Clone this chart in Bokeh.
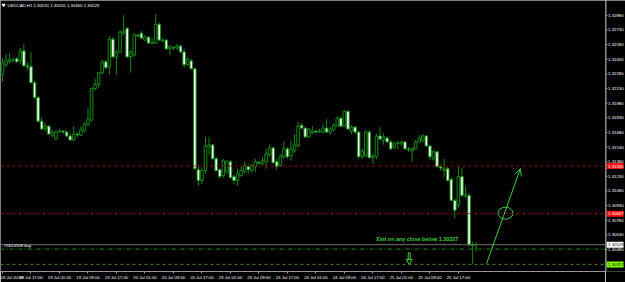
from bokeh.plotting import figure
from bokeh.layouts import row
from bokeh.models import (FixedTicker, Range1d, Label, Span, Arrow, OpenHead,
                          ColumnDataSource)
from bokeh.core.properties import value
from bokeh.embed import file_html
from bokeh.resources import INLINE

# ---------------- data (USDCAD H1) ----------------
opens = [1.32272, 1.32373, 1.32403, 1.32418, 1.32434, 1.32413, 1.32515, 1.32363, 1.32353, 1.32190,
         1.32038, 1.31795, 1.31714, 1.31744, 1.31653, 1.31612, 1.31688, 1.31693, 1.31683, 1.31643,
         1.31602, 1.31663, 1.31653, 1.31693, 1.31764, 1.31805, 1.32130, 1.32170, 1.32292, 1.32403,
         1.32353, 1.32636, 1.32454, 1.32505, 1.32697, 1.32748, 1.32454, 1.32474, 1.32677, 1.32697,
         1.32626, 1.32657, 1.32591, 1.32596, 1.32789, 1.32616, 1.32626, 1.32535, 1.32545, 1.32545,
         1.32566, 1.32505, 1.32373, 1.32413, 1.32332, 1.31298, 1.31187, 1.31288, 1.31531, 1.31552,
         1.31410, 1.31298, 1.31237, 1.31278, 1.31379, 1.31227, 1.31187, 1.31237, 1.31278, 1.31329,
         1.31288, 1.31329, 1.31374, 1.31359, 1.31379, 1.31450, 1.31521, 1.31379, 1.31339, 1.31430,
         1.31511, 1.31440, 1.31491, 1.31541, 1.31754, 1.31724, 1.31633, 1.31673, 1.31693, 1.31683,
         1.31683, 1.31724, 1.31683, 1.31704, 1.31744, 1.31825, 1.31744, 1.31896, 1.31693, 1.31734,
         1.31683, 1.31430, 1.31440, 1.31683, 1.31420, 1.31430, 1.31643, 1.31602, 1.31622, 1.31582,
         1.31531, 1.31567, 1.31562, 1.31582, 1.31511, 1.31491, 1.31511, 1.31582, 1.31592, 1.31643,
         1.31541, 1.31410, 1.31481, 1.31329, 1.31288, 1.31308, 1.31197, 1.30983, 1.30933, 1.31227,
         1.31029, 1.31034, 1.30517, 1.30531]
highs = [1.32444, 1.32484, 1.32495, 1.32444, 1.32454, 1.32545, 1.32586, 1.32393, 1.32505, 1.32211,
         1.32059, 1.31836, 1.31775, 1.31754, 1.31704, 1.31704, 1.31714, 1.31704, 1.31704, 1.31673,
         1.31744, 1.31683, 1.31744, 1.31785, 1.31927, 1.32140, 1.32231, 1.32302, 1.32424, 1.32424,
         1.32667, 1.32657, 1.32525, 1.32728, 1.32880, 1.32758, 1.32525, 1.32697, 1.32687, 1.32718,
         1.32677, 1.32667, 1.32647, 1.32890, 1.32809, 1.32647, 1.32636, 1.32576, 1.32566, 1.32586,
         1.32576, 1.32535, 1.32454, 1.32434, 1.32343, 1.31339, 1.31308, 1.31633, 1.31633, 1.31562,
         1.31430, 1.31308, 1.31410, 1.31399, 1.31399, 1.31247, 1.31308, 1.31329, 1.31379, 1.31359,
         1.31359, 1.31410, 1.31389, 1.31430, 1.31511, 1.31552, 1.31531, 1.31410, 1.31461, 1.31592,
         1.31531, 1.31592, 1.31663, 1.31785, 1.31775, 1.31734, 1.31724, 1.31744, 1.31704, 1.31714,
         1.31764, 1.31815, 1.31734, 1.31775, 1.31846, 1.31846, 1.31907, 1.31907, 1.31754, 1.31744,
         1.31693, 1.31511, 1.31704, 1.31704, 1.31461, 1.31663, 1.31734, 1.31673, 1.31643, 1.31602,
         1.31582, 1.31592, 1.31592, 1.31592, 1.31531, 1.31531, 1.31602, 1.31653, 1.31663, 1.31653,
         1.31552, 1.31501, 1.31491, 1.31349, 1.31410, 1.31329, 1.31217, 1.31004, 1.31329, 1.31308,
         1.31126, 1.31055, 1.30558, 1.30555]
lows = [1.32200, 1.32343, 1.32393, 1.32403, 1.32393, 1.32383, 1.32353, 1.32322, 1.32180, 1.32018,
        1.31775, 1.31704, 1.31693, 1.31653, 1.31633, 1.31602, 1.31673, 1.31663, 1.31633, 1.31592,
        1.31592, 1.31633, 1.31643, 1.31683, 1.31744, 1.31795, 1.32109, 1.32140, 1.32272, 1.32332,
        1.32272, 1.32444, 1.32272, 1.32495, 1.32677, 1.32444, 1.32292, 1.32454, 1.32657, 1.32636,
        1.32616, 1.32586, 1.32586, 1.32586, 1.32616, 1.32606, 1.32525, 1.32474, 1.32525, 1.32525,
        1.32495, 1.32343, 1.32363, 1.32322, 1.31298, 1.31136, 1.31146, 1.31257, 1.31450, 1.31399,
        1.31278, 1.31207, 1.31217, 1.31257, 1.31207, 1.31146, 1.31136, 1.31227, 1.31257, 1.31257,
        1.31268, 1.31278, 1.31349, 1.31339, 1.31308, 1.31430, 1.31359, 1.31298, 1.31329, 1.31410,
        1.31410, 1.31389, 1.31471, 1.31531, 1.31714, 1.31622, 1.31622, 1.31663, 1.31673, 1.31673,
        1.31673, 1.31673, 1.31653, 1.31693, 1.31734, 1.31734, 1.31734, 1.31704, 1.31663, 1.31663,
        1.31410, 1.31410, 1.31430, 1.31410, 1.31359, 1.31410, 1.31592, 1.31552, 1.31572, 1.31501,
        1.31511, 1.31511, 1.31541, 1.31501, 1.31481, 1.31379, 1.31501, 1.31572, 1.31582, 1.31531,
        1.31399, 1.31389, 1.31319, 1.31288, 1.31227, 1.31176, 1.30974, 1.30801, 1.30903, 1.31013,
        1.31004, 1.30507, 1.30327, 1.30460]
closes = [1.32393, 1.32413, 1.32424, 1.32424, 1.32403, 1.32515, 1.32363, 1.32353, 1.32190, 1.32038,
          1.31795, 1.31714, 1.31744, 1.31663, 1.31683, 1.31683, 1.31693, 1.31683, 1.31643, 1.31602,
          1.31663, 1.31653, 1.31704, 1.31764, 1.31815, 1.32130, 1.32170, 1.32292, 1.32403, 1.32343,
          1.32636, 1.32454, 1.32505, 1.32708, 1.32718, 1.32454, 1.32505, 1.32677, 1.32667, 1.32647,
          1.32657, 1.32596, 1.32601, 1.32789, 1.32626, 1.32626, 1.32535, 1.32556, 1.32550, 1.32566,
          1.32505, 1.32373, 1.32424, 1.32332, 1.31308, 1.31187, 1.31288, 1.31541, 1.31552, 1.31410,
          1.31288, 1.31227, 1.31389, 1.31379, 1.31217, 1.31187, 1.31257, 1.31288, 1.31339, 1.31298,
          1.31339, 1.31379, 1.31364, 1.31389, 1.31461, 1.31521, 1.31369, 1.31329, 1.31430, 1.31511,
          1.31430, 1.31511, 1.31552, 1.31744, 1.31724, 1.31633, 1.31714, 1.31693, 1.31683, 1.31693,
          1.31724, 1.31683, 1.31714, 1.31754, 1.31825, 1.31744, 1.31896, 1.31714, 1.31734, 1.31683,
          1.31430, 1.31491, 1.31683, 1.31420, 1.31440, 1.31643, 1.31612, 1.31633, 1.31582, 1.31511,
          1.31562, 1.31572, 1.31582, 1.31511, 1.31501, 1.31511, 1.31582, 1.31622, 1.31643, 1.31541,
          1.31430, 1.31481, 1.31329, 1.31314, 1.31308, 1.31187, 1.30983, 1.30882, 1.31227, 1.31034,
          1.31039, 1.30528, 1.30528, 1.30529]

time_label_bars = [0, 8, 16, 24, 32, 40, 48, 56, 64, 72, 80, 88, 96, 104, 112, 120, 128]
time_labels = ["18 Jul 2018", "18 Jul 17:00", "19 Jul 01:00", "19 Jul 09:00", "19 Jul 17:00",
               "20 Jul 01:00", "20 Jul 09:00", "20 Jul 17:00", "23 Jul 01:00", "23 Jul 09:00",
               "23 Jul 17:00", "24 Jul 01:00", "24 Jul 09:00", "24 Jul 17:00", "25 Jul 01:00",
               "25 Jul 09:00", "25 Jul 17:00"]
price_ticks = [1.32880, 1.32730, 1.32580, 1.32430, 1.32280, 1.32130, 1.31980, 1.31830, 1.31680,
               1.31530, 1.31380, 1.31230, 1.31080, 1.30930, 1.30780, 1.30630, 1.30480]

symbol_title = "USDCAD,H1  1.30531 1.30555 1.30460 1.30529"
tp_level_1 = 1.31335
tp_level_2 = 1.30847
exit_level = 1.30327
bid_level = 1.30529
order_level = 1.30484
order_text = "#5614508 buy"
note_text = "Exit on any close below 1.30327"

box_levels = [tp_level_1, tp_level_2, bid_level, exit_level]
box_fills = ["#ff1010", "#ff1010", "white", "#80ff00"]
box_text_colors = ["white", "white", "black", "black"]

# annotation anchors (bar index, price)
note_pos = (105.0, 1.30588)
down_arrow_pos = (114.2, 1.30360)
circle_pos = (141.2, 1.30852)
arrow_start = (135.9, 1.30335)
arrow_end = (145.4, 1.31308)

# ---------------- styles ----------------
GREEN = "#158a15"
NOTE_GREEN = "#3ccf3c"
AXIS_GRAY = "#9a9a9a"
FONT = "Liberation Sans"
FS = "4.3px"

n = len(opens)
idx = list(range(n))
bull = [c >= o for o, c in zip(opens, closes)]
src = ColumnDataSource(dict(
    x=idx, o=opens, h=highs, l=lows, c=closes,
    top=[max(o, c) for o, c in zip(opens, closes)],
    bottom=[min(o, c) for o, c in zip(opens, closes)],
    fill=["black" if b else "white" for b in bull],
))

yr = Range1d(1.30254, 1.33032)

# ---------- main chart ----------
p = figure(width=605, height=282, output_backend="svg", toolbar_location=None,
           x_range=Range1d(-0.56, 169.3), y_range=yr, y_axis_location=None,
           min_border_left=0, min_border_right=0, min_border_top=0, min_border_bottom=8,
           background_fill_color="black", border_fill_color="black")
p.grid.visible = False
p.outline_line_color = None

ax = p.xaxis[0]
ax.axis_line_color = AXIS_GRAY
ax.major_tick_line_color = AXIS_GRAY
ax.major_tick_in = 0
ax.major_tick_out = 2
ax.minor_tick_line_color = None
ax.major_label_text_color = "white"
ax.major_label_text_font = FONT
ax.major_label_text_font_size = FS
ax.major_label_standoff = 1
ax.ticker = FixedTicker(ticks=time_label_bars)
ax.major_label_overrides = {b: t for b, t in zip(time_label_bars, time_labels)}
ax.major_label_text_align = "left"

# level lines
p.add_layout(Span(location=tp_level_1, dimension="width", line_color="#8b1010", line_dash="3 3", line_width=1))
p.add_layout(Span(location=tp_level_2, dimension="width", line_color="#8b1010", line_dash="3 3", line_width=1))
p.add_layout(Span(location=bid_level, dimension="width", line_color="#707070", line_width=1))
p.add_layout(Span(location=order_level, dimension="width", line_color="#1f8a1f", line_dash="4 2 1 2", line_width=1))
p.add_layout(Span(location=exit_level, dimension="width", line_color="#4d8a1c", line_dash="3 3", line_width=1))

# candles
p.segment(x0="x", y0="l", x1="x", y1="h", source=src, line_color=GREEN, line_width=1)
p.vbar(x="x", width=0.72, top="top", bottom="bottom", source=src,
       fill_color="fill", line_color=GREEN, line_width=1)

# title
p.scatter(x=[0.3], y=[1.32985], marker="inverted_triangle", size=3, color="white")
p.add_layout(Label(x=1.4, y=1.32982, text=symbol_title, text_color="white",
                   text_font=FONT, text_font_size=FS, text_baseline="middle"))

# order text
p.add_layout(Label(x=0.4, y=order_level + 0.0001, text=order_text, text_color="white",
                   text_font=FONT, text_font_size=FS, text_baseline="bottom"))

# note text and drawings
p.add_layout(Label(x=note_pos[0], y=note_pos[1], text=note_text, text_color=NOTE_GREEN,
                   text_font=FONT, text_font_style="bold", text_font_size="5.4px",
                   text_baseline="middle"))
p.rect(x=[down_arrow_pos[0]], y=[down_arrow_pos[1] + 0.00050], width=2, height=7,
       width_units="screen", height_units="screen", fill_color=None, line_color=NOTE_GREEN)
p.scatter(x=[down_arrow_pos[0]], y=[down_arrow_pos[1]], marker="inverted_triangle", size=6,
          fill_color="black", line_color=NOTE_GREEN)
p.ellipse(x=[circle_pos[0]], y=[circle_pos[1]], width=15, height=12,
          width_units="screen", height_units="screen", fill_color=None, line_color=NOTE_GREEN)
p.add_layout(Arrow(x_start=arrow_start[0], y_start=arrow_start[1], x_end=arrow_end[0], y_end=arrow_end[1],
                   line_color=NOTE_GREEN, line_width=1,
                   end=OpenHead(size=7, line_color=NOTE_GREEN, line_width=1)))

# ---------- price scale strip (right) ----------
q = figure(width=20, height=282, output_backend="svg", toolbar_location=None,
           x_range=Range1d(0, 20), y_range=yr, x_axis_location=None, y_axis_location=None,
           min_border_left=0, min_border_right=0, min_border_top=0, min_border_bottom=8,
           background_fill_color="black", border_fill_color="black")
q.grid.visible = False
q.outline_line_color = None
q.add_layout(Span(location=0.5, dimension="height", line_color=AXIS_GRAY, line_width=1))
tick_src = ColumnDataSource(dict(y=price_ticks, t=["%.5f" % t for t in price_ticks]))
q.segment(x0=0, y0="y", x1=2, y1="y", source=tick_src, line_color=AXIS_GRAY, line_width=1)
q.text(x=2.6, y="y", text="t", source=tick_src, text_color="white", text_font=value(FONT),
       text_font_size=FS, text_baseline="middle", text_align="left")
box_src = ColumnDataSource(dict(y=box_levels, t=["%.5f" % v for v in box_levels],
                                fill=box_fills, tc=box_text_colors))
q.rect(x=9.6, y="y", width=17, height=6, width_units="screen", height_units="screen",
       source=box_src, fill_color="fill", line_color=None)
q.text(x=2.6, y="y", text="t", source=box_src, text_color="tc", text_font=value(FONT),
       text_font_size=FS, text_baseline="middle", text_align="left")

layout = row(p, q, spacing=0)
open("out.html", "w").write(file_html(layout, INLINE))
